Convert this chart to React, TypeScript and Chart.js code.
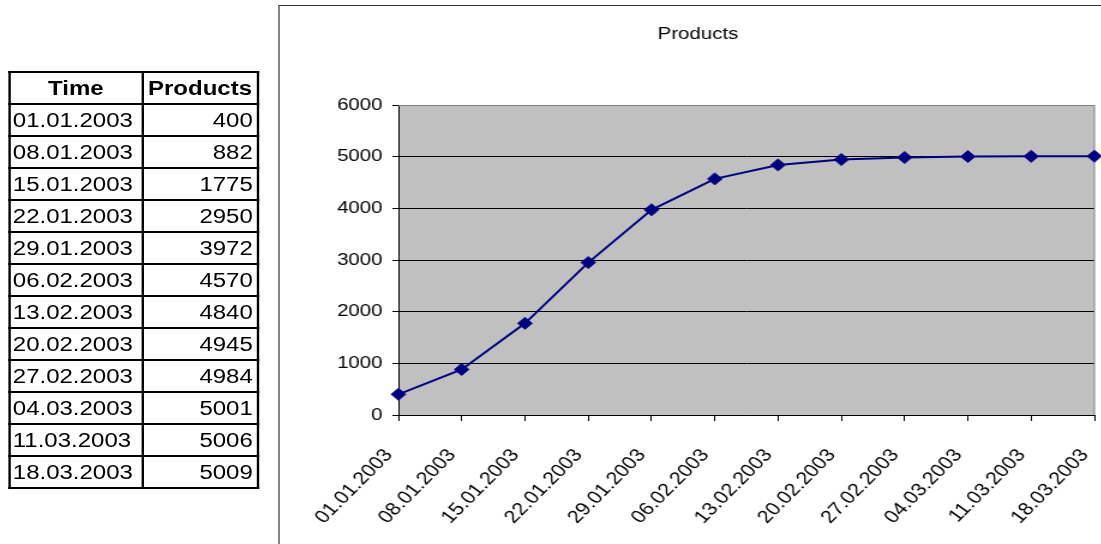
import React, { useEffect, useRef } from "react";
import { Chart, registerables } from "chart.js";

Chart.register(...registerables);

const timeLabels = [
  "01.01.2003",
  "08.01.2003",
  "15.01.2003",
  "22.01.2003",
  "29.01.2003",
  "06.02.2003",
  "13.02.2003",
  "20.02.2003",
  "27.02.2003",
  "04.03.2003",
  "11.03.2003",
  "18.03.2003",
];
const productValues = [400, 882, 1775, 2950, 3972, 4570, 4840, 4945, 4984, 5001, 5006, 5009];
const yTickMin = 0;
const yTickMax = 6000;
const yTickStep = 1000;
const chartTitle = "Products";
const tableHeaders = ["Time", "Products"];

const FONT = "'Liberation Sans', Arial, Helvetica, sans-serif";
const STRETCH = 1.2;

const plotFrame = {
  id: "plotFrame",
  beforeDraw(chart: any) {
    const { ctx, chartArea } = chart;
    if (!chartArea) return;
    ctx.save();
    ctx.fillStyle = "#C0C0C0";
    ctx.fillRect(chartArea.left, chartArea.top, chartArea.right - chartArea.left, chartArea.bottom - chartArea.top);
    ctx.restore();
  },
  beforeDatasetsDraw(chart: any) {
    const { ctx, chartArea } = chart;
    ctx.save();
    ctx.strokeStyle = "#808080";
    ctx.lineWidth = 1;
    ctx.beginPath();
    ctx.moveTo(chartArea.left, chartArea.top + 0.5);
    ctx.lineTo(chartArea.right, chartArea.top + 0.5);
    ctx.moveTo(chartArea.right, chartArea.top);
    ctx.lineTo(chartArea.right, chartArea.bottom);
    ctx.stroke();
    ctx.restore();
  },
};

function ProductsChart() {
  const ref = useRef<HTMLCanvasElement | null>(null);
  useEffect(() => {
    if (!ref.current) return;
    const chart = new Chart(ref.current, {
      type: "line",
      data: {
        labels: timeLabels,
        datasets: [
          {
            label: chartTitle,
            data: productValues,
            borderColor: "#000080",
            backgroundColor: "#000080",
            borderWidth: 2,
            tension: 0,
            pointStyle: "rectRot",
            pointRadius: 6,
            pointBackgroundColor: "#000080",
            pointBorderColor: "#000080",
            pointBorderWidth: 1,
            clip: false as any,
          },
        ],
      },
      options: {
        animation: false,
        responsive: false,
        devicePixelRatio: 1,
        layout: { padding: { left: 16.5, right: 5.33, top: 0, bottom: 0 } },
        plugins: {
          legend: { display: false },
          tooltip: { enabled: false },
          title: {
            display: true,
            text: chartTitle,
            color: "#000",
            font: { family: FONT, size: 17, weight: "normal" },
            padding: { top: 17.8, bottom: 60.8 },
          },
        },
        scales: {
          x: {
            type: "category",
            offset: false,
            grid: {
              display: true,
              drawOnChartArea: false,
              drawTicks: true,
              tickLength: 6,
              color: "#000",
              lineWidth: 1,
            },
            border: { display: true, color: "#000", width: 1 },
            ticks: {
              autoSkip: false,
              maxRotation: 50,
              minRotation: 50,
              color: "#000",
              font: { family: FONT, size: 18 },
              padding: 24,
              labelOffset: -8,
            },
            afterFit: (s: any) => {
              s.height = 131;
              s.paddingLeft = 0;
              s.paddingRight = 0;
            },
          },
          y: {
            min: yTickMin,
            max: yTickMax,
            ticks: {
              stepSize: yTickStep,
              color: "#000",
              font: { family: FONT, size: 17 },
              padding: 8.3,
              callback: (v: any) => String(v),
            },
            grid: {
              color: (c: any) => (c.tick && c.tick.value === yTickMax ? "#808080" : "#000"),
              tickColor: "#000",
              tickLength: 5,
              lineWidth: 1,
            },
            border: { display: true, color: "#000", width: 1 },
            afterFit: (s: any) => {
              s.width = 82.5;
              s.paddingTop = 0;
              s.paddingBottom = 0;
            },
          },
        },
      },
      plugins: [plotFrame],
    } as any);
    return () => chart.destroy();
  }, []);
  return (
    <canvas
      ref={ref}
      width={686}
      height={540}
      style={{ display: "block", width: "686px", height: "540px" }}
    />
  );
}

function DataTable() {
  const cellBase: React.CSSProperties = {
    border: "2px solid #000",
    padding: "0 3px",
    fontFamily: FONT,
    fontSize: "20px",
    color: "#000",
    overflow: "hidden",
    whiteSpace: "nowrap",
  };
  return (
    <table
      style={{
        position: "absolute",
        left: "6.67px",
        top: "71px",
        width: "207px",
        borderCollapse: "collapse",
        tableLayout: "fixed",
        border: "2px solid #000",
      }}
    >
      <colgroup>
        <col style={{ width: "111px" }} />
        <col style={{ width: "96px" }} />
      </colgroup>
      <thead>
        <tr style={{ height: "32px" }}>
          {tableHeaders.map((h) => (
            <th key={h} style={{ ...cellBase, fontWeight: "bold", textAlign: "center", padding: "0 1px" }}>
              {h}
            </th>
          ))}
        </tr>
      </thead>
      <tbody>
        {timeLabels.map((t, i) => (
          <tr key={t} style={{ height: "32px" }}>
            <td style={{ ...cellBase, textAlign: "left", paddingLeft: "2px" }}>{t}</td>
            <td style={{ ...cellBase, textAlign: "right", paddingRight: "3px" }}>{productValues[i]}</td>
          </tr>
        ))}
      </tbody>
    </table>
  );
}

export default function App() {
  return (
    <div
      style={{
        position: "fixed",
        left: 0,
        top: 0,
        width: "1101px",
        height: "544px",
        overflow: "hidden",
        background: "#fff",
      }}
    >
      <div
        style={{
          position: "absolute",
          left: 0,
          top: 0,
          width: `${1101 / STRETCH}px`,
          height: "544px",
          transform: `scaleX(${STRETCH})`,
          transformOrigin: "0 0",
        }}
      >
        <DataTable />
        <div
          style={{
            position: "absolute",
            left: "231.67px",
            top: "5px",
            width: "700px",
            height: "560px",
            border: "1px solid #333",
          }}
        >
          <ProductsChart />
        </div>
      </div>
    </div>
  );
}
